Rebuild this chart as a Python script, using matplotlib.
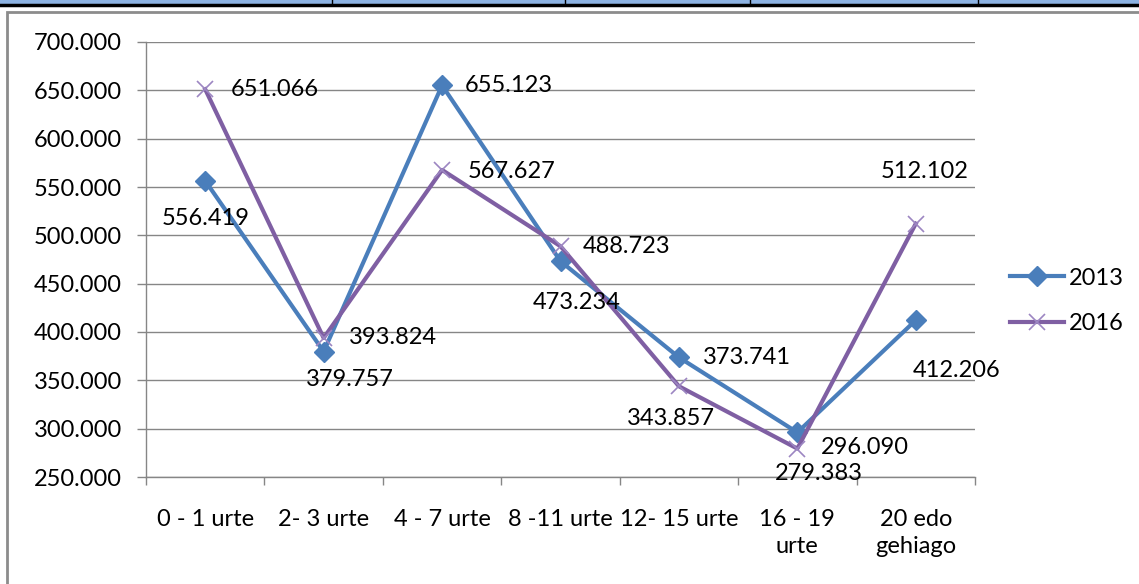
import numpy as np
import matplotlib.pyplot as plt
from matplotlib.patches import Rectangle
from matplotlib.lines import Line2D

plt.rcParams['font.family'] = ['Lato', 'DejaVu Sans']

categories = ["0 - 1 urte", "2- 3 urte", "4 - 7 urte", "8 -11 urte", "12- 15 urte", "16 - 19\nurte", "20 edo\ngehiago"]
v2013 = [556.419, 379.757, 655.123, 473.234, 373.741, 296.090, 412.206]
v2016 = [651.066, 393.824, 567.627, 488.723, 343.857, 279.383, 512.102]
yticks = [250, 300, 350, 400, 450, 500, 550, 600, 650, 700]

# label offsets in pixels (dx, dy), dy positive = up
off2013 = [(0, -38), (26, -28), (67, 0), (16, -41), (68, 0), (68, -15), (41, -50)]
off2016 = [(70, 0), (69, 0), (69, -2), (66, 0), (-8, -32), (22, -25), (9, 52)]

c13 = "#4A7EBB"
c16 = "#7F5FA3"
fs = 17

fig = plt.figure(figsize=(11.39, 5.84), dpi=100)

# table strip and chart frame
fig.patches.append(Rectangle((0, 1 - 4/584), 1, 4/584, transform=fig.transFigure,
                             facecolor="#8DB3E2", edgecolor="none", zorder=0))
fig.add_artist(Line2D([0, 1], [1 - 5/584, 1 - 5/584], transform=fig.transFigure, color="black", lw=2.5))
for xv in [332, 565, 750, 978]:
    fig.add_artist(Line2D([xv/1139, xv/1139], [1 - 5/584, 1], transform=fig.transFigure, color="black", lw=1))
fig.patches.append(Rectangle((7/1139, -0.05), 1.1, 1 - 12/584 + 0.05, transform=fig.transFigure,
                             facecolor="none", edgecolor="#8C8C8C", lw=2, zorder=0))

ax = fig.add_axes([146/1139, 1 - 477/584, (975-146)/1139, (477-42)/584])
ax.set_zorder(2)
ax.patch.set_alpha(0)
x = np.arange(len(categories))

ax.plot(x, v2013, color=c13, lw=3, marker="D", ms=10, mfc=c13, mec=c13, label="2013", zorder=3)
ax.plot(x, v2016, color=c16, lw=3, marker="x", ms=12, mew=1.2, mec="#9C86C2", label="2016", zorder=3)

for xi, v, (dx, dy) in zip(x, v2013, off2013):
    ax.annotate(f"{v:.3f}", (xi, v), xytext=(dx, dy), textcoords="offset pixels",
                ha="center", va="center", fontsize=fs, color="black", zorder=4)
for xi, v, (dx, dy) in zip(x, v2016, off2016):
    ax.annotate(f"{v:.3f}", (xi, v), xytext=(dx, dy), textcoords="offset pixels",
                ha="center", va="center", fontsize=fs, color="black", zorder=4)

ax.set_xlim(-0.5, len(categories) - 0.5)
ax.set_ylim(250, 700)
ax.set_yticks(yticks)
ax.set_yticklabels([f"{t}.000" for t in yticks], fontsize=fs)
ax.grid(True, axis="y", color="#868686", lw=1)
ax.set_axisbelow(True)

ax.set_xticks(x)
ax.set_xticklabels(categories, fontsize=fs, linespacing=1.35)
ax.set_xticks(np.arange(len(categories) + 1) - 0.5, minor=True)
ax.tick_params(axis="x", which="major", length=0, pad=23)
ax.tick_params(axis="x", which="minor", length=6, color="#868686", width=1)
ax.tick_params(axis="y", length=6.5, color="#868686", width=1, pad=11)

for s in ["top", "right"]:
    ax.spines[s].set_visible(False)
for s in ["left", "bottom"]:
    ax.spines[s].set_color("#868686")
    ax.spines[s].set_linewidth(1)

leg = ax.legend(loc="center left", bbox_to_anchor=(1010/1139, 1 - 301/584), bbox_transform=fig.transFigure,
                frameon=False, fontsize=fs, borderpad=0, borderaxespad=0,
                handlelength=2.3, labelspacing=1.05, handletextpad=0.2)

fig.savefig("out.png", dpi=100)
